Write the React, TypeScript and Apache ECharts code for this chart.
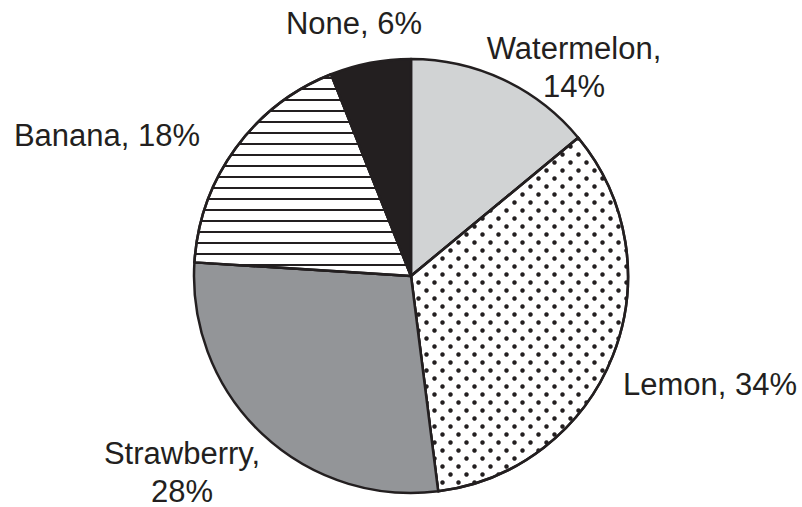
import React, { useEffect, useRef } from "react";
import * as echarts from "echarts";

// ---- data ----
const categories = ["Watermelon", "Lemon", "Strawberry", "Banana", "None"];
const percentages = [14, 34, 28, 18, 6];

// ---- styles / layout (kept separate from data) ----
const INK = "#231f20";
const wrapLabel = [true, false, true, false, false];
const labelCenters: [number, number][] = [
  [574, 67],
  [710, 384],
  [182, 472],
  [107, 135],
  [354, 23],
];

const dotDecal = {
  symbol: "circle",
  symbolSize: 0.9,
  symbolKeepAspect: true,
  color: INK,
  backgroundColor: "#ffffff",
  dashArrayX: [
    [5, 11],
    [0, 8, 5, 3],
  ],
  dashArrayY: [5, 3],
  rotation: 0,
};

const lineDecal = {
  symbol: "rect",
  symbolSize: 1,
  symbolKeepAspect: false,
  color: INK,
  backgroundColor: "#ffffff",
  dashArrayX: [[8, 0]],
  dashArrayY: [2, 9],
  rotation: 0,
};

const sliceStyles: any[] = [
  { color: "#d1d3d4" },
  { color: "#ffffff", decal: dotDecal },
  { color: "#939598" },
  { color: "#ffffff", decal: lineDecal },
  { color: INK },
];

export default function App() {
  const ref = useRef<HTMLDivElement>(null);

  useEffect(() => {
    if (!ref.current) return;
    document.body.style.margin = "0";
    const chart = echarts.init(ref.current, undefined, { renderer: "svg" });
    const data = categories.map((name, i) => ({
      name,
      value: percentages[i],
      itemStyle: sliceStyles[i],
    }));
    chart.setOption({
      animation: false,
      backgroundColor: "#ffffff",
      aria: { enabled: false, decal: { show: false } },
      series: [
        {
          type: "pie",
          center: [411, 276],
          radius: 217,
          startAngle: 90,
          clockwise: true,
          avoidLabelOverlap: false,
          data,
          itemStyle: {
            borderColor: INK,
            borderWidth: 2.5,
          },
          emphasis: { disabled: true },
          label: {
            show: true,
            position: "outside",
            fontFamily: "'Liberation Sans', Arial, Helvetica, sans-serif",
            fontSize: 31,
            lineHeight: 38,
            color: INK,
            align: "center",
            formatter: (p: any) =>
              `${p.name},${wrapLabel[p.dataIndex] ? "\n" : " "}${p.value}%`,
          },
          labelLine: { show: false },
          labelLayout: (p: any) => ({
            x: labelCenters[p.dataIndex][0],
            y: labelCenters[p.dataIndex][1],
            align: "center",
            verticalAlign: "middle",
          }),
        },
      ],
    });
    return () => chart.dispose();
  }, []);

  return <div ref={ref} style={{ width: 802, height: 507 }} />;
}
